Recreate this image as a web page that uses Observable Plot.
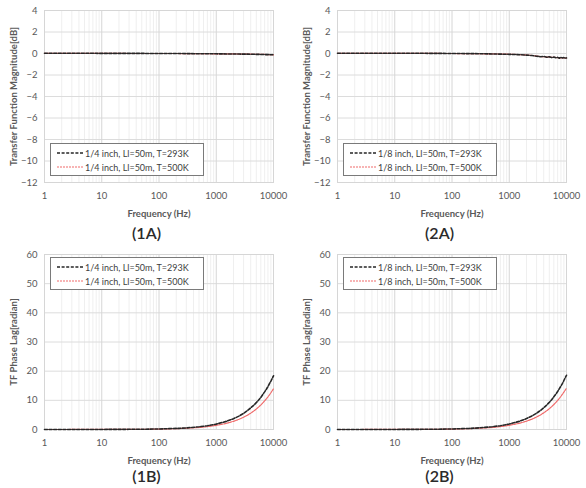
<!DOCTYPE html>
<html>
<head>
<meta charset="utf-8">
<script src="https://cdn.jsdelivr.net/npm/d3@7"></script>
<script src="https://cdn.jsdelivr.net/npm/@observablehq/plot@0.6"></script>
<style>
  html, body { margin: 0; padding: 0; background: #fff; }
  #fig { position: relative; width: 586px; height: 488px; font-family: Lato, "Open Sans", sans-serif; overflow: hidden; }
  .panel { position: absolute; width: 293px; height: 244px; }
  .panel svg { position: absolute; left: 0; top: 0; }
  .legend { position: absolute; left: 50px; width: 152px; height: 31px; border: 1px solid #7a7a7a; background: #fff;
            font-size: 9px; color: #404040; }
  .legend .row { position: absolute; left: 6px; height: 12px; display: flex; align-items: center; white-space: nowrap; }
  .legend svg { position: static; margin-right: 2px; }
  .caption { position: absolute; left: 0; width: 293px; text-align: center; font-size: 16px; line-height: 16px;
             font-weight: 600; color: #2a2a2a; }
</style>
</head>
<body>
<div id="fig"></div>
<script>
// Frequency samples (Hz) shared by all four panels
const freq = [1, 2, 3, 5, 7, 10, 20, 30, 50, 70, 100, 200, 300, 500, 700, 1000, 1500, 2000, 2500, 3000,
              3500, 4000, 4500, 5000, 5500, 6000, 6500, 7000, 7500, 8000, 8500, 9000, 9500, 10000];

// (1A) 1/4 inch transfer-function magnitude [dB]
const mag14_293 = [0.02, 0.02, 0.02, 0.02, 0.02, 0.01, 0.01, 0.01, 0.01, 0.00, 0.00, 0.00, -0.01, -0.02, -0.02, -0.03, -0.04, -0.05, -0.05, -0.06,
                   -0.06, -0.07, -0.07, -0.08, -0.08, -0.09, -0.09, -0.10, -0.10, -0.10, -0.11, -0.11, -0.12, -0.12];
const mag14_500 = [0.01, 0.01, 0.01, 0.01, 0.01, 0.01, 0.01, 0.00, 0.00, 0.00, 0.00, 0.00, -0.01, -0.01, -0.02, -0.03, -0.04, -0.04, -0.05, -0.05,
                   -0.06, -0.06, -0.07, -0.07, -0.08, -0.08, -0.09, -0.09, -0.10, -0.10, -0.10, -0.11, -0.11, -0.12];

// (2A) 1/8 inch transfer-function magnitude [dB]
const mag18_293 = [0.03, 0.03, 0.03, 0.03, 0.03, 0.02, 0.02, 0.02, 0.01, 0.01, 0.00, -0.01, -0.02, -0.04, -0.06, -0.08, -0.11, -0.15, -0.19, -0.25,
                   -0.30, -0.27, -0.35, -0.31, -0.38, -0.33, -0.40, -0.36, -0.44, -0.35, -0.42, -0.38, -0.45, -0.41];
const mag18_500 = [0.02, 0.02, 0.02, 0.02, 0.02, 0.02, 0.02, 0.01, 0.01, 0.00, 0.00, -0.01, -0.02, -0.04, -0.05, -0.07, -0.10, -0.14, -0.18, -0.23,
                   -0.28, -0.30, -0.32, -0.34, -0.35, -0.36, -0.37, -0.38, -0.39, -0.40, -0.40, -0.41, -0.42, -0.42];

// (1B) 1/4 inch phase lag [radian]
const ph14_293 = [0.00, 0.00, 0.01, 0.01, 0.01, 0.02, 0.04, 0.06, 0.09, 0.13, 0.18, 0.37, 0.55, 0.92, 1.30, 1.85, 2.80, 3.70, 4.60, 5.50,
                  6.50, 7.40, 8.30, 9.20, 10.1, 11.0, 12.0, 12.9, 13.8, 14.7, 15.7, 16.6, 17.5, 18.4];
const ph14_500 = [0.00, 0.00, 0.01, 0.01, 0.01, 0.01, 0.03, 0.04, 0.07, 0.10, 0.14, 0.28, 0.42, 0.70, 0.98, 1.40, 2.10, 2.80, 3.50, 4.20,
                  4.90, 5.60, 6.30, 7.00, 7.70, 8.40, 9.10, 9.80, 10.5, 11.2, 11.9, 12.6, 13.3, 14.0];

// (2B) 1/8 inch phase lag [radian]
const ph18_293 = [0.00, 0.00, 0.01, 0.01, 0.01, 0.02, 0.04, 0.06, 0.09, 0.13, 0.19, 0.37, 0.56, 0.93, 1.31, 1.87, 2.80, 3.74, 4.66, 5.58,
                  6.52, 7.45, 8.38, 9.30, 10.2, 11.2, 12.1, 13.0, 14.0, 14.9, 15.8, 16.8, 17.7, 18.6];
const ph18_500 = [0.00, 0.00, 0.01, 0.01, 0.01, 0.01, 0.03, 0.04, 0.07, 0.10, 0.14, 0.29, 0.43, 0.71, 1.00, 1.42, 2.13, 2.85, 3.56, 4.27,
                  4.98, 5.70, 6.41, 7.12, 7.83, 8.54, 9.25, 9.96, 10.7, 11.4, 12.1, 12.8, 13.5, 14.2];

// Axis ticks
const decades = [1, 10, 100, 1000, 10000];
const magTicks = [4, 2, 0, -2, -4, -6, -8, -10, -12];
const phaseTicks = [0, 10, 20, 30, 40, 50, 60];

// Legend entries and captions
const legend14 = ["1/4 inch, Ll=50m, T=293K", "1/4 inch, Ll=50m, T=500K"];
const legend18 = ["1/8 inch, Ll=50m, T=293K", "1/8 inch, Ll=50m, T=500K"];
const captions = ["(1A)", "(2A)", "(1B)", "(2B)"];

// Minor (2..9 per decade) gridline positions
const minorFreqs = [];
for (const d of decades.slice(0, -1)) for (let k = 2; k <= 9; k++) minorFreqs.push(d * k);

const coldStyle = {stroke: "#262626", strokeWidth: 1.6, strokeDasharray: "3,1.6"};
const hotStyle  = {stroke: "#ef6a6a", strokeWidth: 1.2, strokeDasharray: "2,1"};

function rows(a, b) {
  return freq.map((f, i) => ({f, cold: a[i], hot: b[i]}));
}

function panel({left, top, cold, hot, yDomain, yTicks, yLabel, legend, legendTop, caption, plotBottom, captionTop}) {
  const div = document.createElement("div");
  div.className = "panel";
  div.style.left = left + "px";
  div.style.top = top + "px";
  const data = rows(cold, hot);
  const height = plotBottom + 40;
  const svg = Plot.plot({
    width: 293,
    height,
    marginLeft: 44,
    marginRight: 20,
    marginTop: 10,
    marginBottom: height - plotBottom,
    style: {fontFamily: "Lato, 'Open Sans', sans-serif", fontSize: "9.5px", color: "#595959", background: "transparent"},
    x: {type: "log", domain: [1, 10000]},
    y: {domain: yDomain},
    marks: [
      Plot.ruleX(minorFreqs, {stroke: "#efefef", strokeOpacity: 1}),
      Plot.ruleY(yTicks, {stroke: "#dcdcdc", strokeOpacity: 1}),
      Plot.ruleX(decades, {stroke: "#d6d6d6", strokeOpacity: 1}),
      Plot.frame({stroke: "#d6d6d6"}),
      Plot.line(data, {x: "f", y: "hot", ...hotStyle}),
      Plot.line(data, {x: "f", y: "cold", ...coldStyle}),
      Plot.axisX({ticks: decades, tickFormat: d => String(d), tickSize: 0, tickPadding: 10,
                  label: "Frequency (Hz)", labelAnchor: "center", labelArrow: "none", labelOffset: 34}),
      Plot.axisY({ticks: yTicks, tickSize: 0, tickPadding: 7,
                  label: yLabel, labelAnchor: "center", labelArrow: "none", labelOffset: 34})
    ]
  });
  svg.querySelectorAll('[aria-label="x-axis label"] text, [aria-label="y-axis label"] text')
     .forEach(t => t.setAttribute("font-weight", "bold"));
  div.appendChild(svg);

  const lg = document.createElement("div");
  lg.className = "legend";
  lg.style.top = legendTop + "px";
  const styles = [coldStyle, hotStyle];
  legend.forEach((txt, i) => {
    const r = document.createElement("div");
    r.className = "row";
    r.style.top = (3 + i * 14) + "px";
    const s = styles[i];
    r.innerHTML = `<svg width="26" height="6"><line x1="0" y1="3" x2="26" y2="3" stroke="${s.stroke}" stroke-width="${s.strokeWidth}" stroke-dasharray="${s.strokeDasharray}"/></svg><span>${txt}</span>`;
    lg.appendChild(r);
  });
  div.appendChild(lg);

  const cap = document.createElement("div");
  cap.className = "caption";
  cap.style.top = captionTop + "px";
  cap.textContent = caption;
  div.appendChild(cap);
  return div;
}

const fig = document.getElementById("fig");
const magLabel = "Transfer Function Magnitude[dB]";
const phLabel = "TF Phase Lag[radian]";
fig.appendChild(panel({left: 0, top: 0, cold: mag14_293, hot: mag14_500, yDomain: [-12, 4], yTicks: magTicks,
  yLabel: magLabel, legend: legend14, legendTop: 143, caption: captions[0], plotBottom: 182, captionTop: 225}));
fig.appendChild(panel({left: 293, top: 0, cold: mag18_293, hot: mag18_500, yDomain: [-12, 4], yTicks: magTicks,
  yLabel: magLabel, legend: legend18, legendTop: 143, caption: captions[1], plotBottom: 182, captionTop: 225}));
fig.appendChild(panel({left: 0, top: 244, cold: ph14_293, hot: ph14_500, yDomain: [0, 60], yTicks: phaseTicks,
  yLabel: phLabel, legend: legend14, legendTop: 13, caption: captions[2], plotBottom: 185, captionTop: 224}));
fig.appendChild(panel({left: 293, top: 244, cold: ph18_293, hot: ph18_500, yDomain: [0, 60], yTicks: phaseTicks,
  yLabel: phLabel, legend: legend18, legendTop: 13, caption: captions[3], plotBottom: 185, captionTop: 224}));
</script>
</body>
</html>
